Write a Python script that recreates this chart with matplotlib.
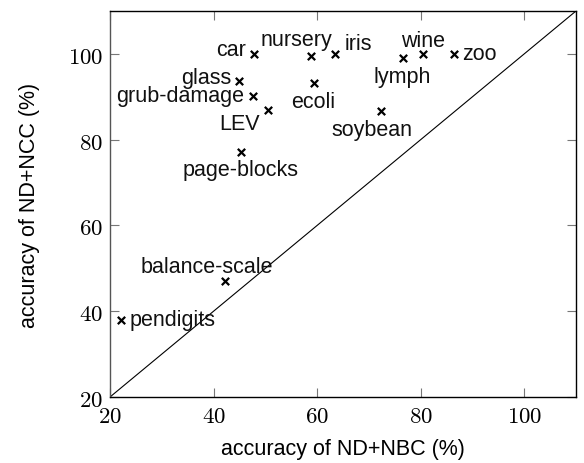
import matplotlib
matplotlib.use("Agg")
import matplotlib.pyplot as plt
from matplotlib.ticker import FuncFormatter, FixedLocator

# ---- data ----
datasets = ["car", "nursery", "iris", "glass", "grub-damage", "LEV", "ecoli",
            "soybean", "page-blocks", "lymph", "wine", "zoo",
            "balance-scale", "pendigits"]
acc_nd_nbc = [47.9, 58.8, 63.5, 45.0, 47.6, 50.6, 59.4,
              72.4, 45.3, 76.5, 80.4, 86.5,
              42.3, 22.1]
acc_nd_ncc = [100.0, 99.6, 100.0, 93.6, 90.1, 86.9, 93.3,
              86.8, 77.1, 99.0, 100.0, 100.0,
              47.0, 38.0]
ticks = [20, 40, 60, 80, 100]

# label placement (offset in pixels, horizontal alignment)
label_pos = {
    "car": (-8, -1, "right"),
    "nursery": (-14, 10.5, "center"),
    "iris": (9, 4.7, "left"),
    "glass": (-8, -1.6, "right"),
    "grub-damage": (-8.5, -5, "right"),
    "LEV": (-9, -18.7, "right"),
    "ecoli": (-1, -24.6, "center"),
    "soybean": (-9, -24.3, "center"),
    "page-blocks": (-0.5, -22.7, "center"),
    "lymph": (-0.5, -23.4, "center"),
    "wine": (0, 8.3, "center"),
    "zoo": (7.6, -5.3, "left"),
    "balance-scale": (-18.5, 8.7, "center"),
    "pendigits": (8.6, -5.3, "left"),
}

plt.rcParams["font.family"] = ["Liberation Sans", "DejaVu Sans"]
plt.rcParams["mathtext.fontset"] = "cm"

fig = plt.figure(figsize=(5.84, 4.64), dpi=100)
ax = fig.add_axes([110 / 584, 1 - 398 / 464, 466 / 584, 386 / 464])

ax.set_xlim(20, 110)
ax.set_ylim(20, 110)

# diagonal
ax.plot([20, 110], [20, 110], color="black", lw=0.8, zorder=2)

ax.scatter(acc_nd_nbc, acc_nd_ncc, marker="x", s=28, color="black",
           linewidths=1.6, zorder=3)

for name, xv, yv in zip(datasets, acc_nd_nbc, acc_nd_ncc):
    dx, dy, ha = label_pos[name]
    ax.annotate(name, (xv, yv), xytext=(dx, dy), textcoords="offset pixels",
                ha=ha, va="baseline", fontsize=15.5, color="#111111")

ax.xaxis.set_major_locator(FixedLocator(ticks))
ax.yaxis.set_major_locator(FixedLocator(ticks))
fmt = FuncFormatter(lambda v, p: r"$%d$" % v)
ax.xaxis.set_major_formatter(fmt)
ax.yaxis.set_major_formatter(fmt)
ax.tick_params(direction="in", length=6.5, width=0.8, color="#777777",
               top=True, right=True, labelsize=16.5, pad=5)

for s in ax.spines.values():
    s.set_linewidth(1.0)
    s.set_color("black")
ax.spines["left"].set_color("#555555")

ax.set_xlabel("accuracy of ND+NBC (%)", fontsize=15.5, labelpad=8)
ax.set_ylabel("accuracy of ND+NCC (%)", fontsize=15.5, labelpad=20)

fig.savefig("out.png", dpi=100)
